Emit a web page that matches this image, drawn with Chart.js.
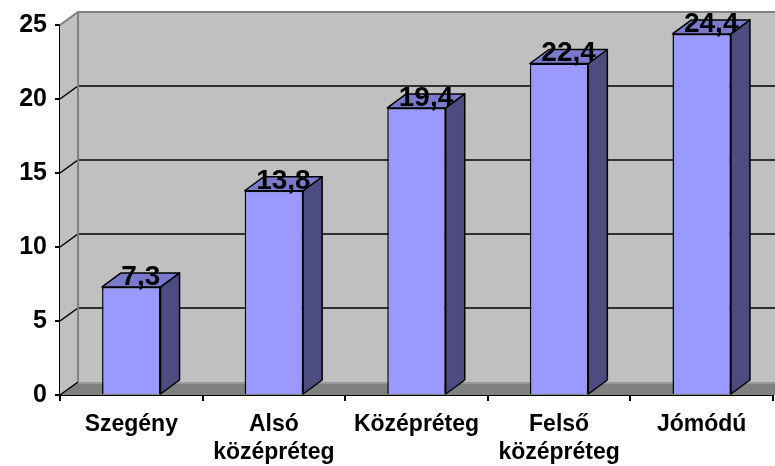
<!DOCTYPE html>
<html>
<head>
<meta charset="utf-8">
<script src="https://cdn.jsdelivr.net/npm/chart.js@4.4.1/dist/chart.umd.min.js"></script>
<style>
  html, body { margin: 0; padding: 0; background: #fff; }
</style>
</head>
<body>
<canvas id="grafikon" width="775" height="466"></canvas>
<script>
const kategoriak = [['Szegény'], ['Alsó', 'középréteg'], ['Középréteg'], ['Felső', 'középréteg'], ['Jómódú']];
const ertekek = [7.3, 13.8, 19.4, 22.4, 24.4];
const yTickek = [0, 5, 10, 15, 20, 25];

const FONT = "'Liberation Sans', Arial, sans-serif";
// 3D eltolás (fal és oszlop mélysége)
const DX = 18, DY = 13;
const BDX = 19, BDY = 14;

const terPlugin = {
    id: 'ter',
    beforeDatasetsDraw(chart) {
        const { ctx, chartArea: a, scales: { y } } = chart;
        const W = chart.width;
        ctx.save();
        // bal oldalfal
        ctx.fillStyle = '#c0c0c0';
        ctx.beginPath();
        ctx.moveTo(a.left, a.top);
        ctx.lineTo(a.left + DX, a.top - DY);
        ctx.lineTo(a.left + DX, a.bottom - DY);
        ctx.lineTo(a.left, a.bottom);
        ctx.closePath();
        ctx.fill();
        // hátsó fal
        ctx.fillRect(a.left + DX, a.top - DY, W, a.bottom - a.top);
        // padló
        ctx.fillStyle = '#808080';
        ctx.beginPath();
        ctx.moveTo(a.left, a.bottom);
        ctx.lineTo(W, a.bottom);
        ctx.lineTo(W, a.bottom - DY);
        ctx.lineTo(a.left + DX, a.bottom - DY);
        ctx.closePath();
        ctx.fill();

        // rácsvonalak
        ctx.strokeStyle = '#000';
        ctx.lineWidth = 1.5;
        yTickek.forEach(v => {
            if (v <= 0 || v >= 25) return;
            const py = y.getPixelForValue(v);
            ctx.beginPath();
            ctx.moveTo(a.left, py);
            ctx.lineTo(a.left + DX, py - DY);
            ctx.lineTo(W, py - DY);
            ctx.stroke();
        });
        // padló bal éle
        ctx.beginPath();
        ctx.moveTo(a.left, a.bottom);
        ctx.lineTo(a.left + DX, a.bottom - DY);
        ctx.stroke();

        // fal élei
        ctx.strokeStyle = '#808080';
        ctx.lineWidth = 2;
        ctx.beginPath();
        ctx.moveTo(a.left, a.top);
        ctx.lineTo(a.left + DX, a.top - DY);
        ctx.lineTo(W, a.top - DY);
        ctx.moveTo(a.left + DX, a.top - DY);
        ctx.lineTo(a.left + DX, a.bottom - DY);
        ctx.stroke();
        ctx.strokeStyle = '#a0a0a0';
        ctx.lineWidth = 1.5;
        ctx.beginPath();
        ctx.moveTo(a.left + DX, a.bottom - DY + 1);
        ctx.lineTo(W, a.bottom - DY + 1);
        ctx.stroke();
        ctx.restore();
    },
    afterDatasetsDraw(chart) {
        const { ctx } = chart;
        const meta = chart.getDatasetMeta(0);
        ctx.save();
        ctx.strokeStyle = '#000';
        ctx.lineWidth = 1.5;
        ctx.lineJoin = 'round';
        meta.data.forEach((bar, i) => {
            const { x, y, base, width } = bar.getProps(['x', 'y', 'base', 'width'], true);
            const l = x - width / 2, r = x + width / 2;
            // oldallap
            ctx.fillStyle = '#4c4c80';
            ctx.beginPath();
            ctx.moveTo(r, y);
            ctx.lineTo(r + BDX, y - BDY);
            ctx.lineTo(r + BDX, base - BDY);
            ctx.lineTo(r, base);
            ctx.closePath();
            ctx.fill();
            ctx.stroke();
            // tető
            ctx.fillStyle = '#7a7acc';
            ctx.beginPath();
            ctx.moveTo(l, y);
            ctx.lineTo(r, y);
            ctx.lineTo(r + BDX, y - BDY);
            ctx.lineTo(l + BDX, y - BDY);
            ctx.closePath();
            ctx.fill();
            ctx.stroke();
            // felirat
            ctx.fillStyle = '#000';
            ctx.font = 'bold 28px ' + FONT;
            ctx.textAlign = 'center';
            ctx.textBaseline = 'alphabetic';
            ctx.fillText(String(ertekek[i]).replace('.', ','), x + BDX / 2, y - 2);
        });
        ctx.restore();
    }
};

new Chart(document.getElementById('grafikon'), {
    type: 'bar',
    data: {
        labels: kategoriak,
        datasets: [{
            data: ertekek,
            backgroundColor: '#9999ff',
            borderColor: '#000',
            borderWidth: 1.5,
            barPercentage: 0.41,
            categoryPercentage: 1
        }]
    },
    options: {
        responsive: false,
        devicePixelRatio: 1,
        animation: false,
        layout: { padding: { top: 25, right: 2, left: 0, bottom: 0 } },
        plugins: { legend: { display: false }, tooltip: { enabled: false } },
        scales: {
            x: {
                grid: { offset: true, drawOnChartArea: false, color: '#000', tickLength: 6, lineWidth: 2 },
                border: { color: '#000', width: 2 },
                ticks: {
                    color: '#000',
                    padding: 10,
                    maxRotation: 0,
                    autoSkip: false,
                    font: { family: FONT, size: 23, weight: 'bold', lineHeight: 1.2 }
                },
                afterFit(s) { s.height = 71; }
            },
            y: {
                min: 0,
                max: 25,
                afterBuildTicks(s) { s.ticks = yTickek.map(v => ({ value: v })); },
                grid: { drawOnChartArea: false, color: '#000', tickLength: 5, lineWidth: 2 },
                border: { color: '#000', width: 2 },
                ticks: {
                    color: '#000',
                    padding: 8,
                    font: { family: FONT, size: 25, weight: 'bold' }
                },
                afterFit(s) { s.width = 60; }
            }
        }
    },
    plugins: [terPlugin]
});
</script>
</body>
</html>
